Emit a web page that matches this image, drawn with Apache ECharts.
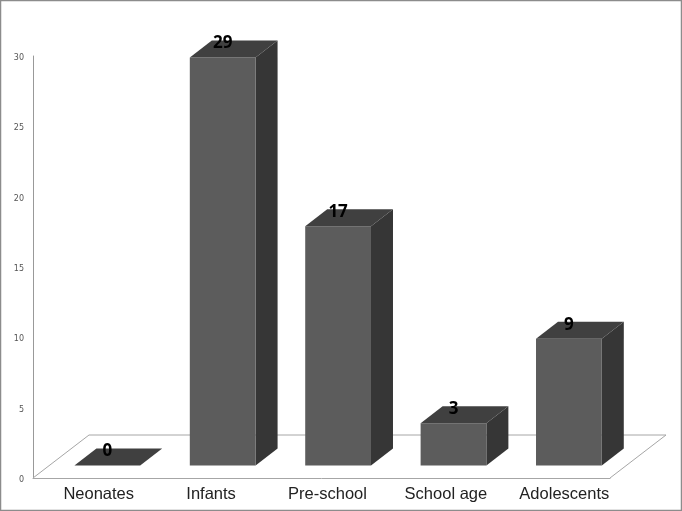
<!DOCTYPE html>
<html><head><meta charset="utf-8">
<style>html,body{margin:0;padding:0;background:#fff}#c{width:682px;height:511px}</style>
<script src="https://cdn.jsdelivr.net/npm/echarts@6/dist/echarts.min.js"></script>
</head><body><div id="c"></div>
<script>
const categories = ['Neonates','Infants','Pre-school','School age','Adolescents'];
const values = [0,29,17,3,9];
const yTicks = [0,30,5];
const labelShift = [8,5,6,9,12];
const labelRise = [0,0,0,2,0];

const DEPTH_X = 22, DEPTH_Y = 17, FLOOR_X = 56, FLOOR_Y = 43;
const BAR_SHIFT_X = 16.6, BAR_SHIFT_Y = -12.6;
const chart = echarts.init(document.getElementById('c'), null, {renderer:'canvas'});

const rich = {};
categories.forEach((c,i)=>{
  rich['l'+i] = {fontFamily:'Liberation Sans',fontSize:16.5,color:'#222',
    padding:[0,0,labelRise[i]*2,labelShift[i]*2]};
});

function renderFloor(params){
  const g = params.coordSys;
  const x0 = g.x, y0 = g.y+g.height, w = g.width;
  return {type:'polyline',silent:true,
    shape:{points:[[x0,y0],[x0+FLOOR_X,y0-FLOOR_Y],[x0+w+FLOOR_X,y0-FLOOR_Y],[x0+w,y0]]},
    style:{fill:'#fff',stroke:'#a6a6a6',lineWidth:1}};
}
function renderBar(params,api){
  const i = api.value(0), v = api.value(1);
  const w = api.size([1,0])[0]*0.57;
  const top = api.coord([i,v]), base = api.coord([i,0]);
  const l = top[0]-w/2+BAR_SHIFT_X, r = l+w;
  const t = top[1]+BAR_SHIFT_Y, b = base[1]+BAR_SHIFT_Y;
  const kids = [];
  if(b-t>0){
    kids.push({type:'polygon',shape:{points:[[r,t],[r+DEPTH_X,t-DEPTH_Y],[r+DEPTH_X,b-DEPTH_Y],[r,b]]},style:{fill:'#363636'}});
    kids.push({type:'rect',shape:{x:l,y:t,width:w,height:b-t},style:{fill:'#5c5c5c'}});
  }
  kids.push({type:'polygon',shape:{points:[[l,t],[l+DEPTH_X,t-DEPTH_Y],[r+DEPTH_X,t-DEPTH_Y],[r,t]]},style:{fill:'#404040'}});
  kids.push({type:'text',z2:10,style:{text:String(v),x:(l+r)/2,y:t-14,align:'center',verticalAlign:'middle',
    fontFamily:'Open Sans',fontWeight:'bold',fontSize:17,fill:'#000'}});
  return {type:'group',children:kids};
}

chart.setOption({
  animation:false,
  backgroundColor:'#fff',
  graphic:[{type:'rect',silent:true,z:-1,shape:{x:0.5,y:0.5,width:681,height:510},style:{fill:'none',stroke:'#8c8c8c',lineWidth:1.5}}],
  grid:{left:33,top:56,width:577,height:422,containLabel:false},
  xAxis:{type:'category',data:categories,
    axisLine:{show:true,lineStyle:{color:'#a6a6a6',width:1}},axisTick:{show:false},splitLine:{show:false},
    axisLabel:{margin:8,interval:0,hideOverlap:false,rich,
      formatter:(v,i)=>`{l${i}|${v}}`}},
  yAxis:{type:'value',min:yTicks[0],max:yTicks[1],interval:yTicks[2],
    axisLine:{show:true,lineStyle:{color:'#999',width:1}},axisTick:{show:false},splitLine:{show:false},
    axisLabel:{margin:9,formatter:v=>`{t|${v}}`,
      rich:{t:{fontFamily:'DejaVu Sans',fontSize:8,color:'#555',padding:[4,0,0,0]}}}},
  series:[
    {type:'custom',coordinateSystem:'cartesian2d',data:[[0,0]],renderItem:renderFloor,silent:true,z:1},
    {type:'custom',coordinateSystem:'cartesian2d',encode:{x:0,y:1},
      data:values.map((v,i)=>[i,v]),renderItem:renderBar,silent:true,z:2}
  ]
});
</script></body></html>
